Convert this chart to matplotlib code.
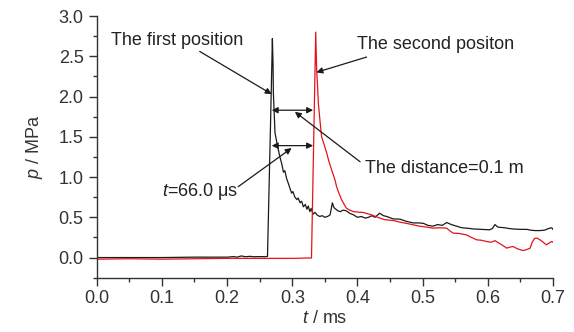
import matplotlib
matplotlib.use('Agg')
import matplotlib.pyplot as plt
from matplotlib.ticker import MultipleLocator, FormatStrFormatter

# pressure histories (t in ms, p in MPa)
t_first = [0.0, 0.05, 0.1, 0.15, 0.2, 0.21, 0.215, 0.222, 0.228, 0.235, 0.24, 0.25,
           0.258, 0.262, 0.2668, 0.2695, 0.2705, 0.271, 0.2735, 0.2765, 0.2786, 0.281,
           0.2837, 0.2865, 0.2885, 0.2914, 0.294, 0.2965, 0.299, 0.301, 0.304, 0.307,
           0.309, 0.312, 0.3144, 0.317, 0.320, 0.3225, 0.3245, 0.327, 0.329, 0.332,
           0.335, 0.338, 0.342, 0.346, 0.350, 0.354, 0.358, 0.3615, 0.364, 0.367,
           0.370, 0.374, 0.378, 0.383, 0.388, 0.394, 0.400, 0.406, 0.412, 0.417,
           0.422, 0.427, 0.434, 0.440, 0.445, 0.455, 0.465, 0.475, 0.486, 0.494,
           0.501, 0.508, 0.516, 0.523, 0.530, 0.537, 0.544, 0.552, 0.560, 0.568,
           0.578, 0.590, 0.603, 0.607, 0.611, 0.615, 0.619, 0.626, 0.633, 0.639,
           0.650, 0.660, 0.666, 0.672, 0.680, 0.687, 0.693, 0.698, 0.700]
p_first = [0.0, 0.0, 0.0, 0.005, 0.005, 0.012, 0.005, 0.02, 0.01, 0.015, 0.01, 0.012,
           0.01, 0.015, 1.71, 2.72, 2.4, 2.05, 1.55, 1.42, 1.34, 1.25,
           1.17, 1.06, 1.08, 0.98, 0.92, 0.86, 0.80, 0.82, 0.75, 0.72,
           0.74, 0.68, 0.70, 0.63, 0.66, 0.60, 0.64, 0.57, 0.61, 0.54,
           0.56, 0.53, 0.51, 0.52, 0.50, 0.51, 0.53, 0.68, 0.62, 0.60,
           0.58, 0.57, 0.59, 0.58, 0.55, 0.53, 0.50, 0.51, 0.49, 0.50,
           0.52, 0.50, 0.55, 0.52, 0.51, 0.48, 0.477, 0.45, 0.43, 0.43,
           0.425, 0.40, 0.39, 0.41, 0.40, 0.435, 0.41, 0.39, 0.37, 0.365,
           0.355, 0.35, 0.345, 0.36, 0.41, 0.38, 0.375, 0.37, 0.36, 0.355,
           0.35, 0.35, 0.34, 0.335, 0.335, 0.34, 0.36, 0.37, 0.35]

t_second = [0.0, 0.05, 0.1, 0.15, 0.2, 0.25, 0.3, 0.3295, 0.336, 0.3374, 0.339,
            0.340, 0.3425, 0.345, 0.349, 0.3528, 0.356, 0.3604, 0.3655, 0.368,
            0.3706, 0.3757, 0.379, 0.383, 0.388, 0.3936, 0.400, 0.409, 0.415,
            0.4218, 0.428, 0.4345, 0.442, 0.455, 0.465, 0.475, 0.486, 0.495,
            0.505, 0.516, 0.525, 0.537, 0.542, 0.547, 0.555, 0.567, 0.575,
            0.583, 0.590, 0.598, 0.605, 0.611, 0.617, 0.623, 0.629, 0.634,
            0.639, 0.645, 0.654, 0.660, 0.665, 0.668, 0.672, 0.676, 0.680,
            0.685, 0.690, 0.694, 0.698, 0.700]
p_second = [-0.02, -0.015, -0.02, -0.015, -0.01, -0.01, -0.01, -0.005, 2.80, 2.33, 2.1,
            1.92, 1.70, 1.50, 1.40, 1.30, 1.20, 1.09, 0.965, 0.88,
            0.82, 0.717, 0.67, 0.614, 0.59, 0.571, 0.565, 0.56, 0.545,
            0.53, 0.51, 0.49, 0.47, 0.46, 0.44, 0.425, 0.406, 0.39,
            0.38, 0.365, 0.37, 0.365, 0.33, 0.303, 0.30, 0.282, 0.25,
            0.22, 0.215, 0.20, 0.19, 0.21, 0.18, 0.15, 0.117, 0.13,
            0.137, 0.11, 0.087, 0.10, 0.117, 0.19, 0.24, 0.24, 0.22,
            0.19, 0.158, 0.18, 0.20, 0.19]

plt.rcParams['font.family'] = ['Liberation Sans', 'DejaVu Sans']
plt.rcParams['mathtext.fontset'] = 'custom'
plt.rcParams['mathtext.it'] = 'Liberation Sans:italic'
plt.rcParams['mathtext.rm'] = 'Liberation Sans'

FS = 13
TXT = '#222222'
fig = plt.figure(figsize=(5.74, 3.32), dpi=100)
ax = fig.add_axes([0.1685, 0.1636, 0.7949, 0.7882])

ax.plot(t_first, p_first, color='#1a1a1a', lw=0.9)
ax.plot(t_second, p_second, color='#e3131c', lw=0.9)

ax.set_xlim(0.0, 0.7)
ax.set_ylim(-0.25, 3.0)
ax.xaxis.set_major_locator(MultipleLocator(0.1))
ax.xaxis.set_minor_locator(MultipleLocator(0.05))
ax.yaxis.set_major_locator(MultipleLocator(0.5))
ax.yaxis.set_minor_locator(MultipleLocator(0.25))
ax.xaxis.set_major_formatter(FormatStrFormatter('%.1f'))
ax.yaxis.set_major_formatter(FormatStrFormatter('%.1f'))
ax.tick_params(which='major', direction='out', length=6, width=1, labelsize=FS,
               colors='#333333')
ax.tick_params(which='minor', direction='out', length=3, width=1, colors='#333333')
ax.tick_params(axis='x', pad=3)
for s in ('top', 'right'):
    ax.spines[s].set_visible(False)
for s in ('left', 'bottom'):
    ax.spines[s].set_color('#333333')
    ax.spines[s].set_linewidth(1.0)

ax.set_xlabel('$t$ / ms', fontsize=FS, color='#333333', labelpad=2)
ax.set_ylabel('$p$ / MPa', fontsize=FS, color='#333333', labelpad=10)

arrow = dict(arrowstyle='-|>', color='#1a1a1a', lw=0.9, mutation_scale=9,
             shrinkA=0, shrinkB=0)
darrow = dict(arrowstyle='<|-|>', color='#1a1a1a', lw=0.9, mutation_scale=9,
              shrinkA=0, shrinkB=0)

# "The first position" label and its leader
ax.text(0.123, 2.70, 'The first position', fontsize=FS, color=TXT,
        ha='center', va='center')
ax.annotate('', xy=(0.2684, 2.03), xytext=(0.158, 2.56), arrowprops=arrow)

# "The second positon" label and its leader
ax.text(0.399, 2.64, 'The second positon', fontsize=FS, color=TXT,
        ha='left', va='center')
ax.annotate('', xy=(0.337, 2.30), xytext=(0.414, 2.49), arrowprops=arrow)

# horizontal spacing arrows between the two fronts
ax.annotate('', xy=(0.2685, 1.83), xytext=(0.332, 1.83), arrowprops=darrow)
ax.annotate('', xy=(0.2685, 1.39), xytext=(0.332, 1.39), arrowprops=darrow)

ax.text(0.411, 1.11, 'The distance=0.1 m', fontsize=FS, color=TXT,
        ha='left', va='center')
ax.annotate('', xy=(0.304, 1.81), xytext=(0.404, 1.19), arrowprops=arrow)

ax.text(0.2167, 0.82, '$t$=66.0 μs', fontsize=FS, color=TXT,
        ha='right', va='center')
ax.annotate('', xy=(0.299, 1.36), xytext=(0.217, 0.88), arrowprops=arrow)

fig.savefig('out.png', dpi=100)
